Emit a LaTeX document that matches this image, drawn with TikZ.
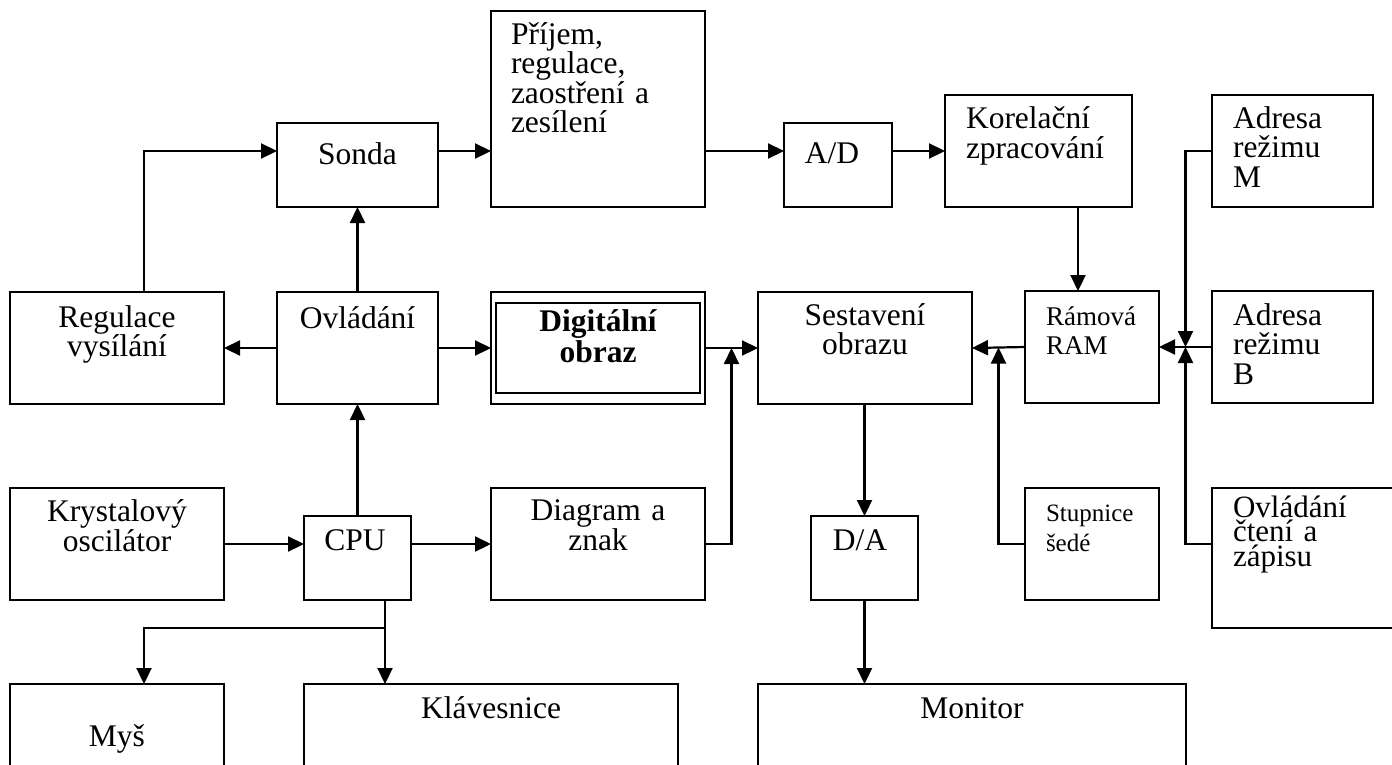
\documentclass[tikz,border=0pt]{standalone}
\usepackage{fontspec}
\setmainfont{Liberation Serif}
\usetikzlibrary{arrows.meta,calc}
\begin{document}
\begin{tikzpicture}[x=1pt,y=-1pt,
  box/.style={draw, line width=1.6pt, inner sep=0pt, outer sep=0pt, rectangle},
  arr/.style={line width=2.2pt, -{Triangle[length=16pt,width=15pt]}},
  txt/.style={font=\fontsize{31.5pt}{29.5pt}\selectfont, inner sep=0pt, outer sep=0pt, anchor=base},
  txtl/.style={txt, anchor=base west, align=left, text width=#1},
  txtc/.style={txt, align=center, text width=#1}]
\useasboundingbox (0,0) rectangle (1392,764);
\clip (0,0) rectangle (1392,764);
% boxes
\node[box, minimum width=161pt, minimum height=84pt]  (sonda)  at (357.5,165) {};
\node[box, minimum width=214pt, minimum height=196pt] (prijem) at (598,109) {};
\node[box, minimum width=108pt, minimum height=84pt]  (ad)     at (838,165) {};
\node[box, minimum width=187pt, minimum height=112pt] (korel)  at (1038.5,151) {};
\node[box, minimum width=161pt, minimum height=112pt] (adrM)   at (1292.5,151) {};
\node[box, minimum width=214pt, minimum height=112pt] (reg)    at (117,348) {};
\node[box, minimum width=161pt, minimum height=112pt] (ovl)    at (357.5,348) {};
\node[box, minimum width=214pt, minimum height=112pt] (dig)    at (598,348) {};
\node[box, line width=2.6pt, minimum width=204pt, minimum height=90pt] (diginner) at (598,348) {};
\node[box, minimum width=214pt, minimum height=112pt] (sest)   at (865,348) {};
\node[box, minimum width=134pt, minimum height=112pt] (ram)    at (1092,347) {};
\node[box, minimum width=161pt, minimum height=112pt] (adrB)   at (1292.5,347) {};
\node[box, minimum width=214pt, minimum height=112pt] (kryst)  at (117,544) {};
\node[box, minimum width=107pt, minimum height=84pt]  (cpu)    at (357.5,558) {};
\node[box, minimum width=214pt, minimum height=112pt] (diag)   at (598,544) {};
\node[box, minimum width=107pt, minimum height=84pt]  (da)     at (864.5,558) {};
\node[box, minimum width=134pt, minimum height=112pt] (stup)   at (1092,544) {};
\node[box, minimum width=188pt, minimum height=140pt] (ovlc)   at (1306,558) {};
\node[box, minimum width=214pt, minimum height=116pt] (mys)    at (117,742) {};
\node[box, minimum width=374pt, minimum height=116pt] (klav)   at (491,742) {};
\node[box, minimum width=428pt, minimum height=116pt] (mon)    at (972,742) {};
% texts
\node[txt] (t-sonda) at (357.5,164) {Sonda};
\node[txtl=200pt] (t-prijem) at (511,44) {Příjem,\\regulace,\\zaostření a\\zesílení};
\node[txt] (t-ad) at (832,163) {A/D};
\node[txtl=170pt] (t-korel) at (966,128.5) {Korelační\\zpracování};
\node[txtl=140pt] (t-adrM) at (1233,128) {Adresa\\režimu\\M};
\node[txtc=200pt] (t-reg) at (117,327) {Regulace\\vysílání};
\node[txt] (t-ovl) at (357.5,328) {Ovládání};
\node[txtc=200pt, font=\fontsize{31.5pt}{31pt}\selectfont\bfseries] (t-dig) at (598,331.7) {Digitální\\obraz};
\node[txtc=200pt] (t-sest) at (865,325) {Sestavení\\obrazu};
\node[txtl=110pt, font=\fontsize{27pt}{29pt}\selectfont] (t-ram) at (1046,325) {Rámová\\RAM};
\node[txtl=140pt] (t-adrB) at (1233,325) {Adresa\\režimu\\B};
\node[txtc=200pt] (t-kryst) at (117,521.7) {Krystalový\\oscilátor};
\node[txt] (t-cpu) at (355,550) {CPU};
\node[txtc=200pt] (t-diag) at (598,520.7) {Diagram a\\znak};
\node[txt] (t-da) at (860,550) {D/A};
\node[txtl=110pt, font=\fontsize{25pt}{30pt}\selectfont] (t-stup) at (1046,521.7) {Stupnice\\šedé};
\node[txtl=150pt, font=\fontsize{31pt}{24.5pt}\selectfont] (t-ovlc) at (1233,517) {Ovládání\\čtení a\\zápisu};
\node[txt] (t-mys) at (117,746.7) {Myš};
\node[txt] (t-klav) at (491,718) {Klávesnice};
\node[txt] (t-mon) at (972,718) {Monitor};
% junction coordinates
\coordinate (jD) at ($(dig.east)!0.5!(sest.west)$);
\coordinate (jS) at ($(sest.east)!0.5!(ram.west)$);
\coordinate (jB) at ($(ram.east)!0.5!(adrB.west)$);
\coordinate (cpuout) at ([xshift=27.5pt]cpu.south);
\coordinate (split) at ($(cpuout)+(0,28)$);
% connectors
\draw[arr] ([xshift=27pt]reg.north) |- (sonda.west |- korel.west);
\draw[arr] (sonda.east |- korel.west) -- (prijem.west |- korel.west);
\draw[arr] (prijem.east |- korel.west) -- (ad.west |- korel.west);
\draw[arr] (ad.east |- korel.west) -- (korel.west);
\draw[arr] (ovl.north) -- (sonda.south);
\draw[arr] (ovl.west) -- (reg.east);
\draw[arr] (ovl.east) -- (dig.west);
\draw[arr] (dig.east) -- (sest.west);
\draw[arr] (diag.east) -| (jD);
\draw[arr] (ram.west) -- (sest.east);
\draw[arr] (stup.west) -| (jS);
\draw[arr] (adrB.west) -- (ram.east);
\draw[arr] (adrM.west) -| (jB);
\draw[arr] (ovlc.west |- stup.west) -| (jB);
\draw[arr] ([xshift=-14pt]ram.north |- korel.south) -- ([xshift=-14pt]ram.north);
\draw[arr] (sest.south -| da.north) -- (da.north);
\draw[arr] (da.south) -- (da.south |- mon.north);
\draw[arr] (kryst.east) -- (cpu.west |- kryst.east);
\draw[arr] (cpu.east |- diag.west) -- (diag.west);
\draw[arr] (cpu.north) -- (ovl.south);
\draw[arr] (cpuout) -- (cpuout |- klav.north);
\draw[arr] (split) -| ([xshift=27pt]mys.north);
\end{tikzpicture}
\end{document}
